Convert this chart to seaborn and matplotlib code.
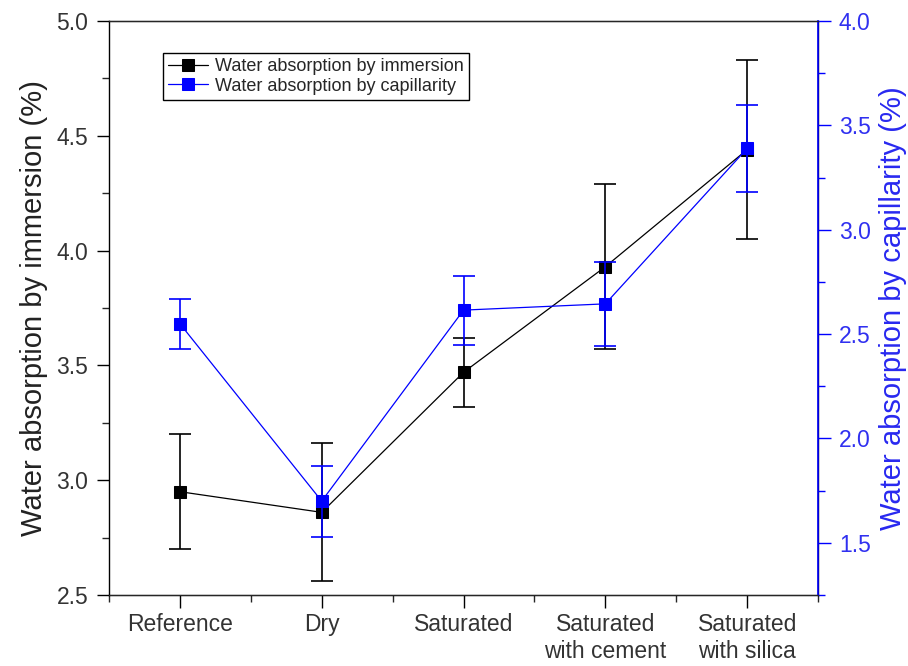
import seaborn as sns
import matplotlib.pyplot as plt
from matplotlib.ticker import MultipleLocator, AutoMinorLocator

# categories (two-line labels as in the original)
categories = ["Reference", "Dry", "Saturated", "Saturated\nwith cement", "Saturated\nwith silica"]

# water absorption by immersion (%), left axis
immersion = [2.95, 2.86, 3.47, 3.93, 4.44]
immersion_err = [0.25, 0.30, 0.15, 0.36, 0.39]

# water absorption by capillarity (%), right axis
capillarity = [2.55, 1.70, 2.615, 2.645, 3.39]
capillarity_err = [0.12, 0.17, 0.165, 0.20, 0.21]

sns.set_style("ticks")
plt.rcParams['font.family'] = ['Liberation Sans', 'DejaVu Sans']
plt.rcParams['xtick.direction'] = 'out'
plt.rcParams['ytick.direction'] = 'out'

fig = plt.figure(figsize=(9.08, 6.66), dpi=100)
ax = fig.add_axes([0.120, 0.1066, 0.781, 0.8618])
ax2 = ax.twinx()

pos = list(range(len(categories)))

# black series
sns.lineplot(x=pos, y=immersion, ax=ax, color='black', marker='s', markersize=9,
             markeredgecolor='black', linewidth=0.9, label='Water absorption by immersion',
             legend=False)
ax.errorbar(pos, immersion, yerr=immersion_err, fmt='none', ecolor='black',
            elinewidth=1.2, capsize=8, capthick=1.2)

# blue series
sns.lineplot(x=pos, y=capillarity, ax=ax2, color='blue', marker='s', markersize=9,
             markeredgecolor='blue', linewidth=0.9, label='Water absorption by capillarity',
             legend=False)
ax2.errorbar(pos, capillarity, yerr=capillarity_err, fmt='none', ecolor='blue',
             elinewidth=1.2, capsize=8, capthick=1.2)

ax.set_xlim(-0.5, 4.5)
ax.set_ylim(2.5, 5.0)
ax2.set_ylim(1.25, 4.0)

ax.set_xticks(pos)
ax.set_xticklabels(categories, fontsize=17, color='#222222')
ax.xaxis.set_minor_locator(AutoMinorLocator(2))
ax.yaxis.set_major_locator(MultipleLocator(0.5))
ax.yaxis.set_minor_locator(MultipleLocator(0.25))
ax2.yaxis.set_major_locator(MultipleLocator(0.5))
ax2.yaxis.set_minor_locator(MultipleLocator(0.25))
ax2.set_yticks([1.5, 2.0, 2.5, 3.0, 3.5, 4.0])

ax.tick_params(axis='both', which='major', length=9, width=1, labelsize=16.5,
               colors='black', labelcolor='#333333')
ax.tick_params(axis='both', which='minor', length=5, width=1)
ax.tick_params(axis='y', pad=6)
ax.tick_params(axis='x', pad=4)
ax2.tick_params(axis='y', which='major', length=9, width=1, labelsize=16.5,
                colors='blue', labelcolor='#3030f0', pad=6)
ax2.tick_params(axis='y', which='minor', length=5, width=1, colors='blue')
ax.yaxis.set_major_formatter('{x:.1f}')
ax2.yaxis.set_major_formatter('{x:.1f}')

for s in ax.spines.values():
    s.set_color('black')
    s.set_linewidth(1)
ax2.spines['right'].set_color('blue')
ax2.spines['right'].set_linewidth(1.2)
ax2.spines['left'].set_visible(False)

ax.set_ylabel('Water absorption by immersion (%)', fontsize=21, color='#222222', labelpad=6)
ax2.set_ylabel('Water absorption by capillarity (%)', fontsize=21, color='#2828f0', labelpad=6)

h1, l1 = ax.get_legend_handles_labels()
h2, l2 = ax2.get_legend_handles_labels()
leg = ax2.legend(h1 + h2, l1 + l2, loc='upper left', bbox_to_anchor=(0.076, 0.945),
                 fontsize=13, frameon=True, fancybox=False, framealpha=1,
                 edgecolor='black', borderpad=0.3, handlelength=2.2,
                 handletextpad=0.4, labelspacing=0.15, borderaxespad=0)
leg.get_frame().set_linewidth(1)

fig.savefig('out.png', dpi=100)
